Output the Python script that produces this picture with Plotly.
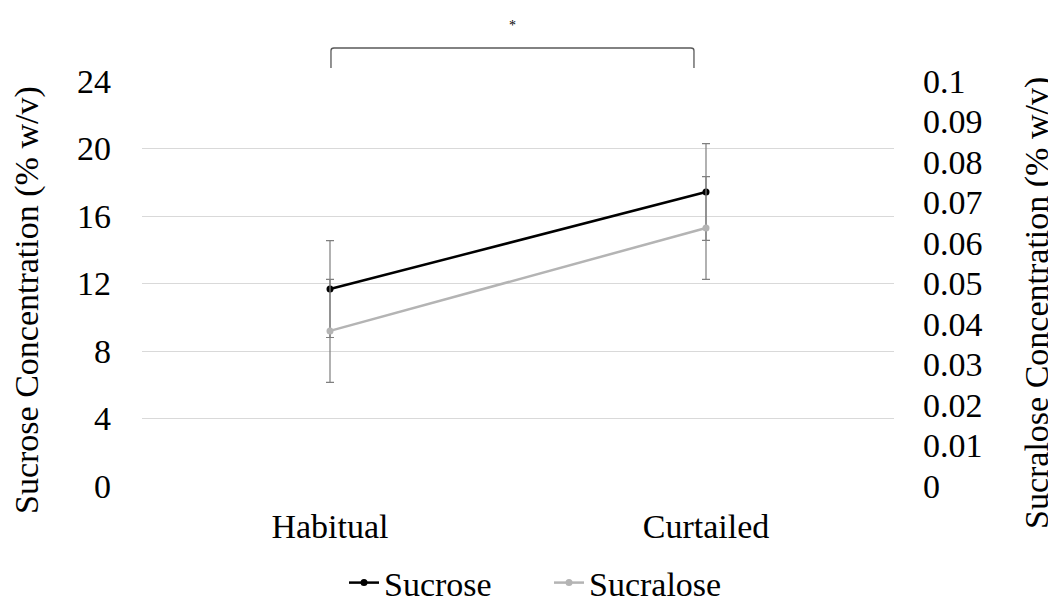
import plotly.graph_objects as go

categories = ["Habitual", "Curtailed"]
sucrose = [11.67, 17.42]
sucrose_err = [2.87, 2.87]
sucralose = [0.0383, 0.0637]
sucralose_err = [0.0127, 0.0127]

left_ticks = [0, 4, 8, 12, 16, 20, 24]
right_ticks = [0, 0.01, 0.02, 0.03, 0.04, 0.05, 0.06, 0.07, 0.08, 0.09, 0.1]

FONT = "Liberation Serif, Times New Roman, serif"
FS = 34

# page body has an 8px margin; figure sized to fit the window
W, H = 1048, 596
L, T = 134, 73
PW, PH = 752, 405

fig = go.Figure()
fig.add_trace(go.Scatter(
    x=categories, y=sucrose, name="Sucrose", mode="lines+markers",
    line=dict(color="black", width=2.5), marker=dict(size=7, color="black"),
    error_y=dict(type="data", array=sucrose_err, color="#7f7f7f", thickness=1.2, width=4),
    yaxis="y"))
fig.add_trace(go.Scatter(
    x=categories, y=sucralose, name="Sucralose", mode="lines+markers",
    line=dict(color="#b4b4b4", width=2.5), marker=dict(size=7, color="#b4b4b4"),
    error_y=dict(type="data", array=sucralose_err, color="#7f7f7f", thickness=1.2, width=4),
    yaxis="y2"))

fig.update_layout(
    width=W, height=H,
    margin=dict(l=L, r=W - L - PW, t=T, b=H - T - PH),
    paper_bgcolor="white", plot_bgcolor="white",
    font=dict(family=FONT, size=FS, color="black"),
    showlegend=True,
    legend=dict(orientation="h", x=(336 - L) / PW, xanchor="left",
                yref="container", y=21 / H, yanchor="middle",
                font=dict(size=FS), itemwidth=30, entrywidth=160, entrywidthmode="pixels",
                bgcolor="rgba(0,0,0,0)"),
    xaxis=dict(type="category", range=[-0.5, 1.5], showgrid=False, zeroline=False,
               showline=False, ticks="", tickfont=dict(size=FS), ticklabelstandoff=17,
               automargin=False),
    yaxis=dict(range=[0, 24], tickvals=left_ticks, showgrid=True, gridcolor="#d9d9d9",
               gridwidth=1, zeroline=False, showline=False, ticks="",
               ticklabelstandoff=30, tickfont=dict(size=FS), automargin=False),
    yaxis2=dict(range=[0, 0.1], tickvals=right_ticks, overlaying="y", side="right",
                showgrid=False, zeroline=False, showline=False, ticks="",
                ticklabelstandoff=28, tickfont=dict(size=FS), automargin=False),
)

# axis titles (positions in window pixels minus 8px body offset)
fig.add_annotation(text="Sucrose Concentration (% w/v)", xref="paper", yref="paper",
                   x=(19 - L) / PW, y=(T + PH - 292) / PH, textangle=-90,
                   showarrow=False, font=dict(size=FS), xanchor="center", yanchor="middle")
fig.add_annotation(text="Sucralose Concentration (% w/v)", xref="paper", yref="paper",
                   x=(1029 - L) / PW, y=(T + PH - 295) / PH, textangle=-90,
                   showarrow=False, font=dict(size=FS), xanchor="center", yanchor="middle")

# significance bracket
fig.add_shape(type="path", xref="paper", yref="paper",
              path="M 0.2513,1.032 L 0.2513,1.075 Q 0.2513,1.0815 0.2553,1.0815 L 0.730,1.0815 Q 0.734,1.0815 0.734,1.075 L 0.734,1.032",
              line=dict(color="#595959", width=1.3))
fig.add_annotation(text="*", xref="paper", yref="paper", x=0.493, y=1.138,
                   showarrow=False, font=dict(size=14, color="black"),
                   xanchor="center", yanchor="middle")

fig.write_html("out.html")
